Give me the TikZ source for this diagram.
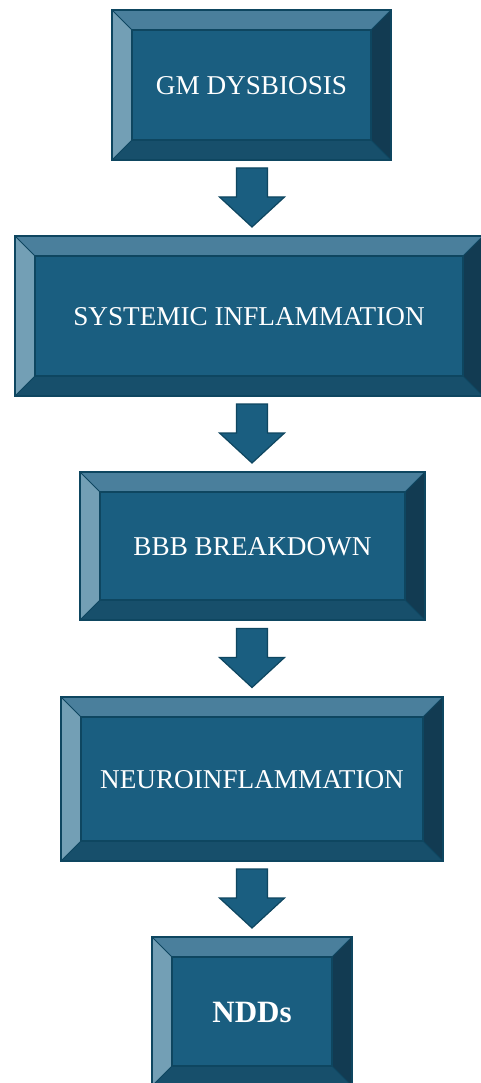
\documentclass[tikz,border=0pt]{standalone}
\usepackage{fontspec}
\setmainfont{Liberation Serif}
\usetikzlibrary{calc}

\definecolor{facecol}{HTML}{1A5E80}
\definecolor{topbevel}{HTML}{4A7F9C}
\definecolor{leftbevel}{HTML}{739FB5}
\definecolor{rightbevel}{HTML}{123B52}
\definecolor{bottombevel}{HTML}{174F6B}
\definecolor{edgecol}{HTML}{0E4660}

\tikzset{
  x=1pt, y=1pt,
  stepbox/.style={rectangle, fill=facecol, inner sep=0pt},
  steptext/.style={text=white, font=\fontsize{27.2}{31}\selectfont},
  bevel/.style={draw=edgecol, line width=1pt, line join=miter},
  blockarrow/.style={fill=facecol, draw=edgecol, line width=1.2pt, line join=miter},
}

% beveled box: name, left, top, right, bottom (top-down y), text, extra text options
\newcommand\bevelbox[7]{%
  \node[stepbox, minimum width={#4-#2}, minimum height={#5-#3}] (#1)
    at ({(#2+#4)/2}, {-(#3+#5)/2}) {};
  \fill[topbevel] (#1.north west) -- (#1.north east) -- ([shift={(-20,-20)}]#1.north east)
    -- ([shift={(20,-20)}]#1.north west) -- cycle;
  \fill[leftbevel] (#1.north west) -- ([shift={(20,-20)}]#1.north west)
    -- ([shift={(20,20)}]#1.south west) -- (#1.south west) -- cycle;
  \fill[rightbevel] (#1.north east) -- (#1.south east) -- ([shift={(-20,20)}]#1.south east)
    -- ([shift={(-20,-20)}]#1.north east) -- cycle;
  \fill[bottombevel] (#1.south west) -- ([shift={(20,20)}]#1.south west)
    -- ([shift={(-20,20)}]#1.south east) -- (#1.south east) -- cycle;
  \draw[bevel, line width=1.5pt] ([shift={(20,-20)}]#1.north west) rectangle ([shift={(-20,20)}]#1.south east);
  \draw[bevel] (#1.north west) -- ([shift={(20,-20)}]#1.north west);
  \draw[bevel] (#1.north east) -- ([shift={(-20,-20)}]#1.north east);
  \draw[bevel] (#1.south west) -- ([shift={(20,20)}]#1.south west);
  \draw[bevel] (#1.south east) -- ([shift={(-20,20)}]#1.south east);
  \draw[bevel, line width=1.8pt] (#1.north west) rectangle (#1.south east);
  \node[steptext, #7] at ([yshift=-1]#1.center) {#6};
}

% block arrow pointing down between two boxes
\newcommand\flowarrow[2]{%
  \path let \p1=($(#1.south)!0.5!(#2.north)$) in
    coordinate (mid-#1) at (252,\y1);
  \draw[blockarrow] ([shift={(-15.5,30)}]mid-#1) -- ([shift={(15.5,30)}]mid-#1)
    -- ([shift={(15.5,1)}]mid-#1) -- ([shift={(32.5,1)}]mid-#1)
    -- ([shift={(0,-29)}]mid-#1) -- ([shift={(-32.5,1)}]mid-#1)
    -- ([shift={(-15.5,1)}]mid-#1) -- cycle;
}

\begin{document}
\begin{tikzpicture}
\useasboundingbox (0,0) rectangle (481,-1083);
\fill[white] (0,0) rectangle (481,-1083);

\bevelbox{b1}{112}{10}{391}{160}{GM DYSBIOSIS}{}
\bevelbox{b2}{15}{236}{483}{396}{SYSTEMIC INFLAMMATION}{}
\bevelbox{b3}{80}{472}{425}{620}{BBB BREAKDOWN}{}
\bevelbox{b4}{61}{697}{443}{861}{NEUROINFLAMMATION}{}
\bevelbox{b5}{152}{937}{352}{1086}{\bfseries NDDs}{font=\fontsize{31}{35}\selectfont}

\flowarrow{b1}{b2}
\flowarrow{b2}{b3}
\flowarrow{b3}{b4}
\flowarrow{b4}{b5}
\end{tikzpicture}
\end{document}
